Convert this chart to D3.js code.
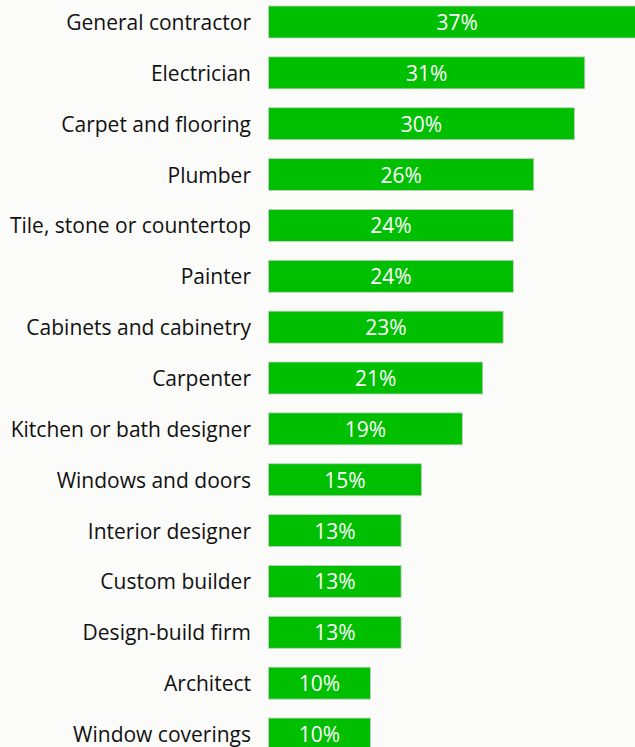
<!DOCTYPE html>
<html>
<head>
<meta charset="utf-8">
<script src="https://cdn.jsdelivr.net/npm/d3@7"></script>
<style>
  html, body { margin: 0; padding: 0; background: #fbfbf9; overflow: hidden; }
  svg { display: block; }
</style>
</head>
<body>
<div id="chart"></div>
<script>
// Share of respondents hiring each type of professional
const categories = [
  "General contractor", "Electrician", "Carpet and flooring", "Plumber",
  "Tile, stone or countertop", "Painter", "Cabinets and cabinetry", "Carpenter",
  "Kitchen or bath designer", "Windows and doors", "Interior designer",
  "Custom builder", "Design-build firm", "Architect", "Window coverings"
];
const values = [37, 31, 30, 26, 24, 24, 23, 21, 19, 15, 13, 13, 13, 10, 10];

const width = 635, height = 747;
const barLeft = 268.5;
const rowStep = 50.86;
const pad = 1 - 32 / rowStep;
const firstBarY = 6;

const svg = d3.select("#chart").append("svg")
  .attr("width", width).attr("height", height);

const x = d3.scaleLinear().domain([0, 37]).range([0, 377.5]);
const y0 = firstBarY - rowStep * pad / 2;
const y = d3.scaleBand()
  .domain(categories)
  .range([y0, y0 + rowStep * categories.length])
  .paddingInner(pad)
  .paddingOuter(pad / 2);

const fontFamily = "'Open Sans', sans-serif";

const rows = svg.append("g").selectAll("g")
  .data(categories.map((c, i) => ({ c, v: values[i] })))
  .join("g")
  .attr("transform", d => `translate(0,${y(d.c)})`);

rows.append("rect")
  .attr("x", barLeft)
  .attr("y", 0)
  .attr("width", d => x(d.v))
  .attr("height", y.bandwidth())
  .attr("fill", "#00bf00")
  .attr("stroke", "#c8cfc8")
  .attr("stroke-width", 0.8);

rows.append("text")
  .attr("x", 251)
  .attr("y", y.bandwidth() / 2)
  .attr("dy", "0.38em")
  .attr("text-anchor", "end")
  .attr("font-family", fontFamily)
  .attr("font-size", 21)
  .attr("fill", "#111")
  .text(d => d.c);

rows.append("text")
  .attr("x", d => barLeft + x(d.v) / 2)
  .attr("y", y.bandwidth() / 2)
  .attr("dy", "0.38em")
  .attr("text-anchor", "middle")
  .attr("font-family", fontFamily)
  .attr("font-size", 21)
  .attr("font-weight", 500)
  .attr("fill", "#ffffff")
  .text(d => d.v + "%");
</script>
</body>
</html>
